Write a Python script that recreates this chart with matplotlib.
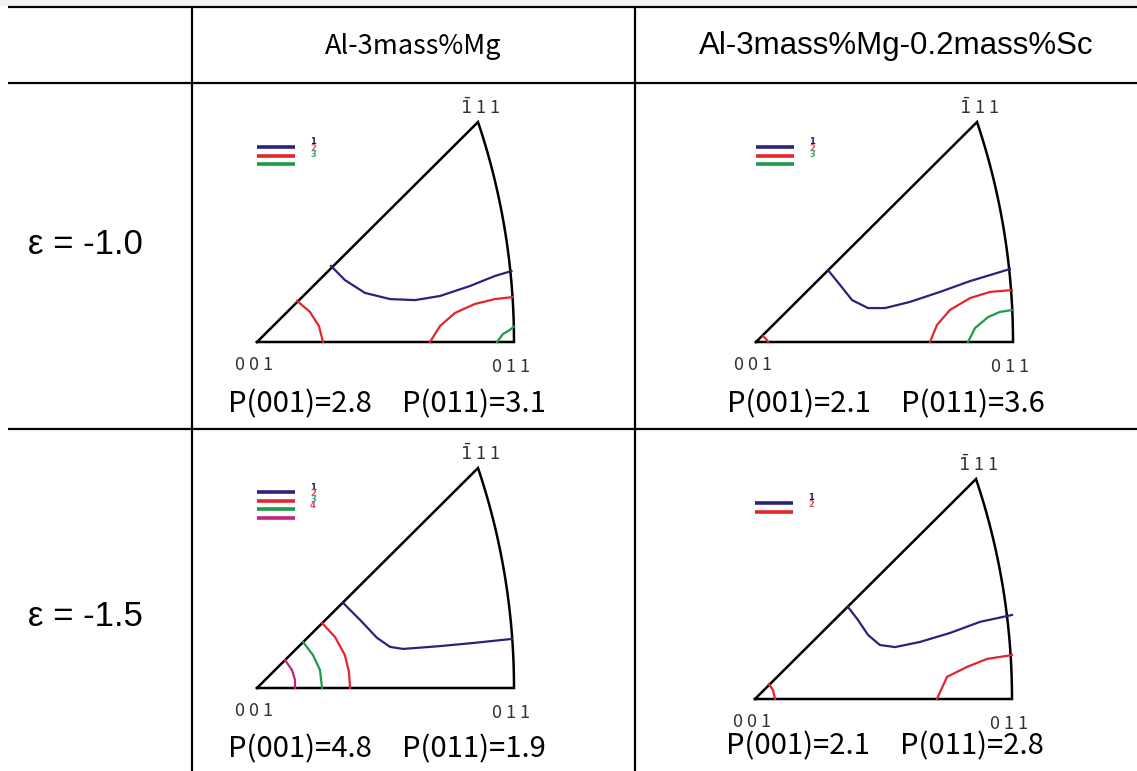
import numpy as np
import matplotlib
matplotlib.use("Agg")
import matplotlib.pyplot as plt
from matplotlib.transforms import Affine2D

# column / row headings
col_labels = ["Al-3mass%Mg", "Al-3mass%Mg-0.2mass%Sc"]
row_labels = ["\u03b5 = -1.0", "\u03b5 = -1.5"]

p001 = [[2.8, 2.1], [4.8, 2.1]]
p011 = [[3.1, 3.6], [1.9, 2.8]]

# contour levels in each cell
levels = [[3, 3], [4, 2]]

# apex (-111) of the stereographic triangle, base 001-011 = 1
apex = (0.86, 0.856)

# contour lines, in triangle units (u along 001->011, v upwards)
# cell (0,0): eps=-1.0, Al-3Mg
c00_blue = [(0.288, 0.296), (0.342, 0.241), (0.420, 0.191), (0.518, 0.167), (0.615, 0.163),
            (0.712, 0.179), (0.829, 0.218), (0.926, 0.257), (0.990, 0.276)]
c00_red_a = [(0.156, 0.160), (0.206, 0.117), (0.241, 0.062), (0.257, 0.0)]
c00_red_b = [(0.673, 0.0), (0.712, 0.062), (0.770, 0.113), (0.848, 0.148), (0.926, 0.167), (0.996, 0.175)]
c00_green = [(0.934, 0.0), (0.957, 0.031), (0.984, 0.047), (1.0, 0.060)]

# cell (0,1): eps=-1.0, Al-3Mg-0.2Sc
c01_blue = [(0.280, 0.280), (0.327, 0.222), (0.374, 0.163), (0.436, 0.132), (0.502, 0.132),
            (0.599, 0.156), (0.716, 0.195), (0.833, 0.237), (0.949, 0.272), (0.988, 0.284)]
c01_red_a = [(0.027, 0.023), (0.039, 0.012), (0.047, 0.0)]
c01_red_b = [(0.677, 0.0), (0.704, 0.066), (0.755, 0.125), (0.833, 0.171), (0.911, 0.195), (0.996, 0.202)]
c01_green = [(0.825, 0.0), (0.852, 0.054), (0.903, 0.097), (0.949, 0.117), (1.0, 0.125)]

# cell (1,0): eps=-1.5, Al-3Mg
c10_blue = [(0.335, 0.331), (0.401, 0.265), (0.467, 0.195), (0.518, 0.160), (0.568, 0.152),
            (0.712, 0.163), (0.840, 0.175), (0.992, 0.191)]
c10_red = [(0.253, 0.253), (0.304, 0.198), (0.342, 0.128), (0.358, 0.062), (0.362, 0.0)]
c10_green = [(0.179, 0.179), (0.218, 0.128), (0.245, 0.070), (0.253, 0.0)]
c10_magenta = [(0.109, 0.109), (0.136, 0.070), (0.148, 0.031), (0.148, 0.0)]

# cell (1,1): eps=-1.5, Al-3Mg-0.2Sc
c11_blue = [(0.362, 0.358), (0.401, 0.307), (0.440, 0.249), (0.486, 0.210), (0.545, 0.202),
            (0.642, 0.222), (0.759, 0.257), (0.875, 0.300), (1.0, 0.327)]
c11_red_a = [(0.054, 0.058), (0.070, 0.035), (0.078, 0.0)]
c11_red_b = [(0.708, 0.0), (0.747, 0.086), (0.825, 0.125), (0.903, 0.156), (1.0, 0.171)]

BLUE = "#2b2279"
RED = "#e3262b"
GREEN = "#1f9a4a"
MAGENTA = "#c8217d"
LEVEL_COLORS = [BLUE, RED, GREEN, MAGENTA]
NUM_COLORS = ["#1c1c5c", "#e0505a", "#3aa37a", "#d04a8a"]

contours = {
    (0, 0): [(c00_blue, BLUE), (c00_red_a, RED), (c00_red_b, RED), (c00_green, GREEN)],
    (0, 1): [(c01_blue, BLUE), (c01_red_a, RED), (c01_red_b, RED), (c01_green, GREEN)],
    (1, 0): [(c10_blue, BLUE), (c10_red, RED), (c10_green, GREEN), (c10_magenta, MAGENTA)],
    (1, 1): [(c11_blue, BLUE), (c11_red_a, RED), (c11_red_b, RED)],
}

# pixel layout
W, H = 1137, 771
origins = {(0, 0): (257, 342), (0, 1): (756, 342), (1, 0): (257, 688), (1, 1): (755, 699)}
BASE = 257
ptext_y = {(0, 0): 404, (0, 1): 404, (1, 0): 749, (1, 1): 746}
legend_y = {(0, 0): 147, (0, 1): 147, (1, 0): 492, (1, 1): 503}

fig = plt.figure(figsize=(W / 100, H / 100), dpi=100)
ax = fig.add_axes([0, 0, 1, 1])
ax.set_xlim(0, W)
ax.set_ylim(H, 0)
ax.axis("off")

# faint band above the table, as in the scan
ax.axhspan(0, 6, color="#f2f2f2", lw=0)

# table grid
lw_grid = 1.6
for y in [7, 83, 429]:
    ax.plot([8, W], [y, y], color="black", lw=lw_grid, solid_capstyle="butt")
for x in [192, 635]:
    ax.plot([x, x], [7, H], color="black", lw=lw_grid, solid_capstyle="butt")

narrow = ["Liberation Sans Narrow", "Noto Sans CJK JP", "DejaVu Sans"]
arial = ["Liberation Sans", "DejaVu Sans"]
ax.text(413, 46, col_labels[0], ha="center", va="center", fontsize=19.5, family=narrow)
ax.text(896, 46, col_labels[1], ha="center", va="center", fontsize=22.5, family=arial)
ax.text(28, 244, row_labels[0], ha="left", va="center", fontsize=25, family=arial)
ax.text(28, 617, row_labels[1], ha="left", va="center", fontsize=25, family=arial)

# arc through 011 and apex, centre on the base line
ax_, ay_ = apex
cx = (ax_ ** 2 + ay_ ** 2 - 1) / (2 * (ax_ - 1))
rad = 1 - cx
th1 = np.arctan2(ay_, ax_ - cx)

for (r, c), (x0, y0) in origins.items():
    tr = Affine2D().scale(BASE, -BASE).translate(x0, y0) + ax.transData
    th = np.linspace(0, th1, 60)
    ou = np.concatenate([[0, 1], cx + rad * np.cos(th), [0]])
    ov = np.concatenate([[0, 0], rad * np.sin(th), [0]])
    ax.plot(ou, ov, color="black", lw=1.8, transform=tr, solid_joinstyle="miter")
    for pts, col in contours[(r, c)]:
        pts = np.array(pts)
        ax.plot(pts[:, 0], pts[:, 1], color=col, lw=1.6, transform=tr)

    # corner labels
    lab_font = ["Noto Sans CJK JP", "DejaVu Sans"]
    ax.text(x0 - 3, y0 + 23, "0 0 1", ha="center", va="center", fontsize=13, color="#333333", family=lab_font)
    ax.text(x0 + BASE - 3, y0 + 25, "0 1 1", ha="center", va="center", fontsize=13, color="#333333", family=lab_font)
    ax.text(x0 + ax_ * BASE + 2, y0 - ay_ * BASE - 14, r"$\bar{1}$ 1 1", ha="center", va="center",
            fontsize=13, color="#333333", family=lab_font)

    # P values
    py = ptext_y[(r, c)]
    ax.text(x0 - 29, py, f"P(001)={p001[r][c]}", ha="left", va="center", fontsize=21, family=narrow)
    ax.text(x0 + 145, py, f"P(011)={p011[r][c]}", ha="left", va="center", fontsize=21, family=narrow)

    # level key
    ly = legend_y[(r, c)]
    for k in range(levels[r][c]):
        yy = ly + k * 8.7
        ax.plot([x0, x0 + 38], [yy, yy], color=LEVEL_COLORS[k], lw=2.6, solid_capstyle="butt")
        ax.text(x0 + 56, ly - 5 + k * 6.2, str(k + 1), ha="center", va="center", fontsize=6,
                color=NUM_COLORS[k], fontweight="bold")

fig.savefig("out.png", dpi=100)
